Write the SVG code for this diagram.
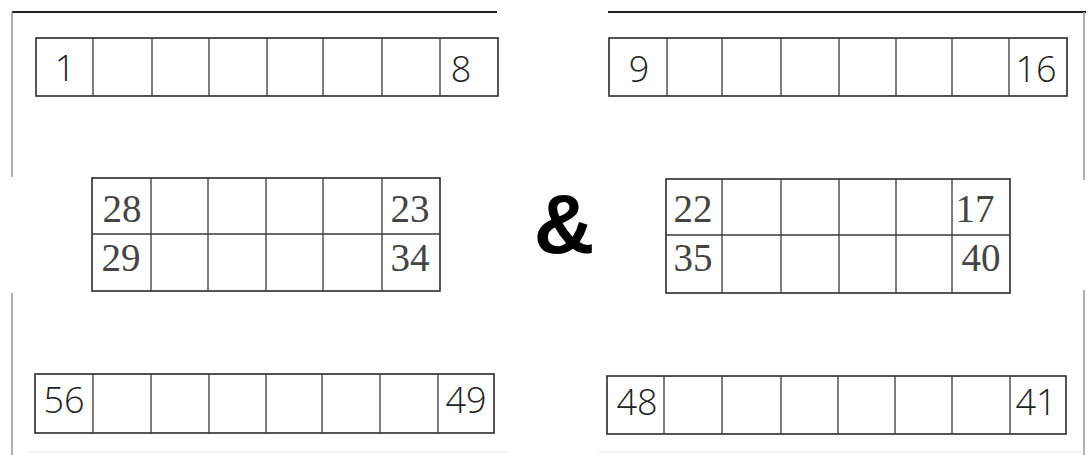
<svg xmlns="http://www.w3.org/2000/svg" width="1092" height="455" viewBox="0 0 1092 455">
<style>
.box{fill:none;stroke:#2a2a2a;stroke-width:1.6}
.div{stroke:#3a3a3a;stroke-width:1.3}
.frame{stroke:#1e1e1e;stroke-width:2;fill:none}
.side{stroke:#9a9a9a;stroke-width:1.6;fill:none}
.faint{stroke:#e2e2e2;stroke-width:1.2;fill:none}
.num{font-family:"Open Sans","Liberation Sans",sans-serif;font-weight:300;font-size:36px;fill:#222;text-anchor:middle}
.snum{font-family:"Liberation Serif","Times New Roman",serif;font-size:39px;fill:#444;text-anchor:middle}
.amp{font-family:"Liberation Sans",Arial,sans-serif;font-weight:bold;font-size:84px;fill:#000;text-anchor:middle}
</style>
<rect width="1092" height="455" fill="#fff"/>
<g id="frame">
<line class="frame" x1="12" y1="12" x2="497" y2="12"/>
<line class="frame" x1="608" y1="12" x2="1086" y2="12"/>
<line class="side" x1="12" y1="12" x2="12" y2="177"/>
<line class="side" x1="12" y1="293" x2="12" y2="455"/>
<line class="side" x1="1084" y1="12" x2="1084" y2="180"/>
<line class="side" x1="1084" y1="290" x2="1084" y2="455"/>
<line class="faint" x1="28" y1="452" x2="508" y2="452"/>
<line class="faint" x1="599" y1="452" x2="1084" y2="452"/>
</g>
<g id="row-1-8">
<rect class="box" x="36" y="38" width="462" height="58"/>
<path class="div" d="M93 38V96M152 38V96M209 38V96M267 38V96M323 38V96M382 38V96M440 38V96"/>
<text class="num" x="65" y="81">1</text>
<text class="num" x="461" y="82">8</text>
</g>
<g id="row-9-16">
<rect class="box" x="609" y="38" width="458" height="58"/>
<path class="div" d="M667 38V96M722 38V96M781 38V96M839 38V96M896 38V96M952 38V96M1009 38V96"/>
<text class="num" x="639" y="82">9</text>
<text class="num" x="1036" y="82">16</text>
</g>
<g id="block-23-34">
<rect class="box" x="92" y="178" width="348" height="113"/>
<path class="div" d="M92 234H440M151 178V291M208 178V291M266 178V291M323 178V291M382 178V291"/>
<text class="snum" x="122" y="222">28</text>
<text class="snum" x="410" y="222">23</text>
<text class="snum" x="121" y="271">29</text>
<text class="snum" x="410" y="271">34</text>
</g>
<g id="ampersand">
<text class="amp" x="564" y="253">&amp;</text>
</g>
<g id="block-17-40">
<rect class="box" x="666" y="179" width="344" height="114"/>
<path class="div" d="M666 235H1010M722 179V293M781 179V293M839 179V293M896 179V293M952 179V293"/>
<text class="snum" x="693" y="222">22</text>
<text class="snum" x="975" y="222">17</text>
<text class="snum" x="693" y="271">35</text>
<text class="snum" x="981" y="271">40</text>
</g>
<g id="row-56-49">
<rect class="box" x="35" y="374" width="459" height="59"/>
<path class="div" d="M93 374V433M151 374V433M209 374V433M266 374V433M322 374V433M380 374V433M438 374V433"/>
<text class="num" x="64" y="413">56</text>
<text class="num" x="466" y="413">49</text>
</g>
<g id="row-48-41">
<rect class="box" x="607" y="376" width="459" height="58"/>
<path class="div" d="M664 376V434M722 376V434M781 376V434M838 376V434M895 376V434M952 376V434M1010 376V434"/>
<text class="num" x="637" y="415">48</text>
<text class="num" x="1036" y="415">41</text>
</g>
<g id="connectors"/>
</svg>
